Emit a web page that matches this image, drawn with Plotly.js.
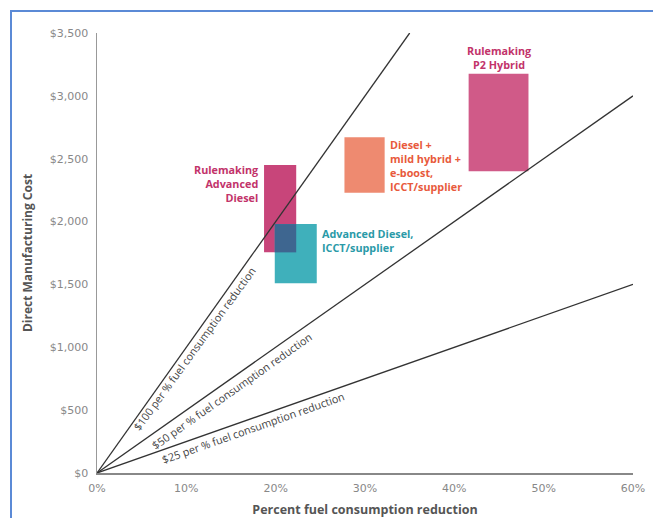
<!DOCTYPE html>
<html>
<head>
<meta charset="utf-8">
<script src="https://cdn.plot.ly/plotly-3.0.1.min.js"></script>
<style>
html,body{margin:0;padding:0;background:#fff;}
#chart{width:653px;height:518px;}
#frame{position:absolute;left:10px;top:10px;width:700px;height:600px;border-left:2px solid #5b8ad6;border-top:2px solid #5b8ad6;pointer-events:none;}
</style>
</head>
<body>
<div id="chart"></div>
<div id="frame"></div>
<script>
// Reference lines: $ per % fuel consumption reduction
var lineRates = [100, 50, 25];
var lineEndX = [35, 60, 60];
var lineLabels = ["$100 per % fuel consumption reduction", "$50 per % fuel consumption reduction", "$25 per % fuel consumption reduction"];
var lineLabelX = [10.9, 15.1, 17.5];
var lineLabelY = [990, 660, 358];

// Technology boxes (percent reduction range, cost range)
var boxNames = ["Rulemaking Advanced Diesel", "Advanced Diesel, ICCT/supplier", "Diesel + mild hybrid + e-boost, ICCT/supplier", "Rulemaking P2 Hybrid"];
var boxX0 = [18.7, 19.9, 27.7, 41.6];
var boxX1 = [22.3, 24.6, 32.2, 48.3];
var boxY0 = [1755, 1510, 2230, 2400];
var boxY1 = [2450, 1980, 2670, 3175];

var xTicks = [0, 10, 20, 30, 40, 50, 60];
var yTicks = [0, 500, 1000, 1500, 2000, 2500, 3000, 3500];

var boxColors = ["#c8457a", "#3fb0bb", "#ee8a70", "#d05a88"];
var font = "'Open Sans', 'DejaVu Sans', sans-serif";
var tickFontFam = "'DejaVu Sans', sans-serif";

var traces = [];
for (var i = 0; i < boxNames.length; i++) {
  traces.push({
    type: "scatter", mode: "lines", name: boxNames[i],
    x: [boxX0[i], boxX1[i], boxX1[i], boxX0[i], boxX0[i]],
    y: [boxY0[i], boxY0[i], boxY1[i], boxY1[i], boxY0[i]],
    fill: "toself", fillcolor: boxColors[i], line: {width: 0}, hoverinfo: "name", showlegend: false
  });
}
// overlap of the two diesel boxes
var ox0 = Math.max(boxX0[0], boxX0[1]), ox1 = Math.min(boxX1[0], boxX1[1]);
var oy0 = Math.max(boxY0[0], boxY0[1]), oy1 = Math.min(boxY1[0], boxY1[1]);
traces.push({
  type: "scatter", mode: "lines", x: [ox0, ox1, ox1, ox0, ox0], y: [oy0, oy0, oy1, oy1, oy0],
  fill: "toself", fillcolor: "#3e6690", line: {width: 0}, hoverinfo: "skip", showlegend: false
});
for (var j = 0; j < lineRates.length; j++) {
  traces.push({
    type: "scatter", mode: "lines", x: [0, lineEndX[j]], y: [0, lineRates[j] * lineEndX[j]],
    line: {color: "#333", width: 1.3}, hoverinfo: "skip", showlegend: false
  });
}

var annotations = [];
var angles = [-54, -35.2, -19.5];
for (var k = 0; k < lineLabels.length; k++) {
  annotations.push({
    x: lineLabelX[k], y: lineLabelY[k], xref: "x", yref: "y", text: lineLabels[k],
    showarrow: false, textangle: angles[k], font: {family: font, size: 10.8, color: "#444"}
  });
}
annotations.push({x: 18.2, y: 2300, xref: "x", yref: "y", xanchor: "right", yanchor: "middle", align: "right",
  text: "<b>Rulemaking<br>Advanced<br>Diesel</b>", showarrow: false, font: {family: font, size: 10.8, color: "#c2336a"}});
annotations.push({x: 25.0, y: 1850, xref: "x", yref: "y", xanchor: "left", yanchor: "middle", align: "left",
  text: "<b>Advanced Diesel,<br>ICCT/supplier</b>", showarrow: false, font: {family: font, size: 10.8, color: "#2a9aa8"}});
annotations.push({x: 32.6, y: 2450, xref: "x", yref: "y", xanchor: "left", yanchor: "middle", align: "left",
  text: "<b>Diesel +<br>mild hybrid +<br>e-boost,<br>ICCT/supplier</b>", showarrow: false, font: {family: font, size: 10.8, color: "#e85a3c"}});
annotations.push({x: 44.95, y: 3170, xref: "x", yref: "y", xanchor: "center", yanchor: "bottom", align: "center",
  text: "<b>Rulemaking<br>P2 Hybrid</b>", showarrow: false, font: {family: font, size: 10.8, color: "#c2336a"}});

var layout = {
  width: 653, height: 518,
  margin: {l: 97, r: 20, t: 33, b: 45},
  paper_bgcolor: "#fff", plot_bgcolor: "#fff",
  font: {family: font},
  xaxis: {
    range: [0, 60], tickvals: xTicks, ticktext: xTicks.map(function(v){return v + "%";}),
    showgrid: false, zeroline: false, showline: true, linecolor: "#888", linewidth: 1.5,
    ticks: "", ticklabelstandoff: 4, tickfont: {family: tickFontFam, size: 11, color: "#888"},
    title: {text: "<b>Percent fuel consumption reduction</b>", font: {family: font, size: 12.5, color: "#555"}, standoff: 12},
    automargin: false
  },
  yaxis: {
    range: [0, 3500], tickvals: yTicks, ticktext: yTicks.map(function(v){return "$" + v.toLocaleString("en-US");}),
    showgrid: false, zeroline: false, showline: true, linecolor: "#999", linewidth: 1.5,
    ticks: "", ticklabelstandoff: 5, tickfont: {family: tickFontFam, size: 11, color: "#888"},
    title: {text: "<b>Direct Manufacturing Cost</b>", font: {family: font, size: 12, color: "#555"}, standoff: 14},
    automargin: false
  },
  annotations: annotations,
  showlegend: false
};

Plotly.newPlot("chart", traces, layout, {displayModeBar: false, staticPlot: true});
</script>
</body>
</html>
